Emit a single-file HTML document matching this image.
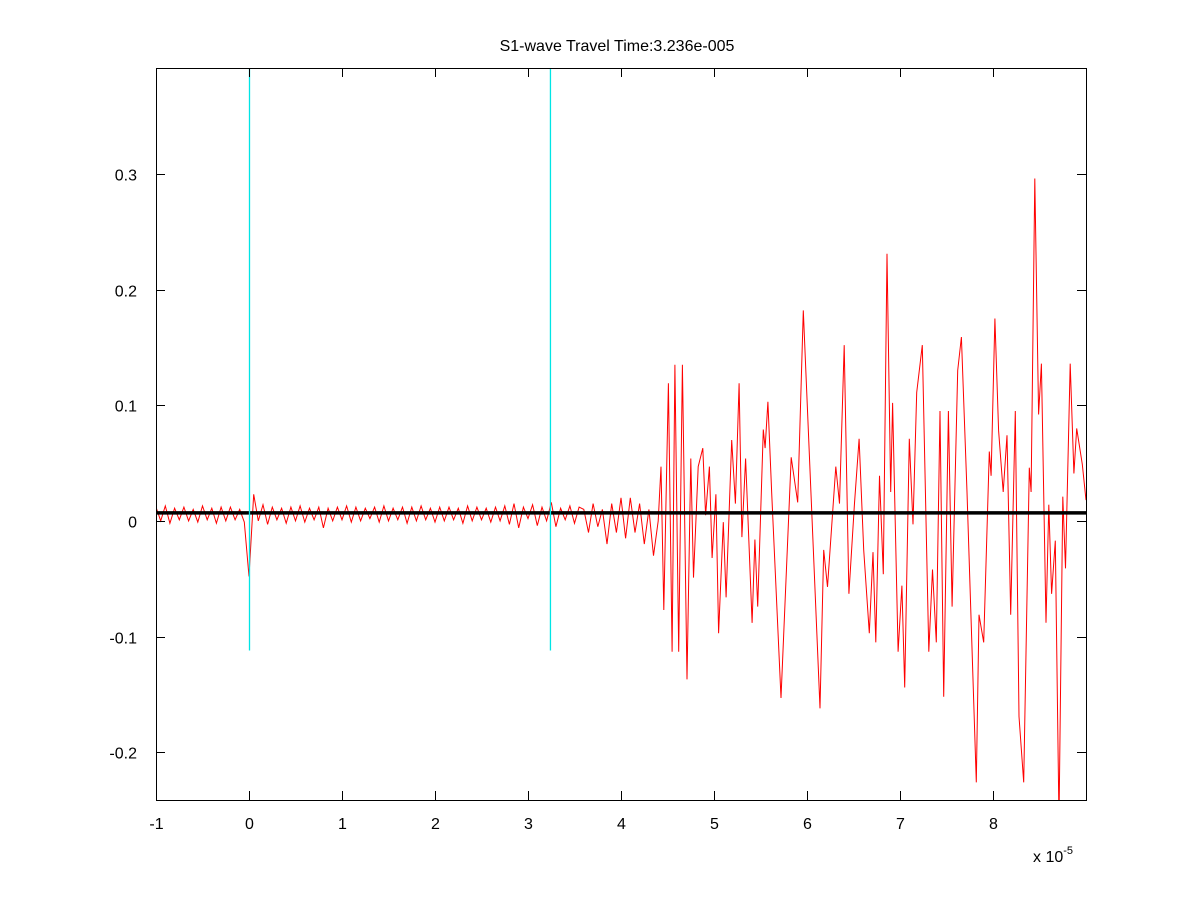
<!DOCTYPE html>
<html><head><meta charset="utf-8"><style>
html,body{margin:0;padding:0;background:#fff;}
svg text{font-family:"Liberation Sans",Arial,sans-serif;}
</style></head><body>
<svg id="chart" width="1200" height="900" xmlns="http://www.w3.org/2000/svg">
<rect x="0" y="0" width="1200" height="900" fill="#fff"/>
<text x="617" y="51" font-size="16" text-anchor="middle">S1-wave Travel Time:3.236e-005</text>
<g id="plot"></g>
<rect x="156.5" y="68.5" width="930" height="732" fill="none" stroke="#000" stroke-width="1"/>
<g id="axes"></g>
<text x="1033" y="862" font-size="16">x 10<tspan dy="-8" font-size="11">-5</tspan></text>
</svg>
<script>
const xTicks=[-1,0,1,2,3,4,5,6,7,8];
const yTicks=[-0.2,-0.1,0,0.1,0.2,0.3];
const yTickLabels=["-0.2","-0.1","0","0.1","0.2","0.3"];
const travelTime=3.236;
const baselineValue=0.007;
const cyanBottom=-0.112;
const noiseStart=-1, noiseStep=0.05;
const noiseVals=[0.012,0,0.013,-0.002,0.011,0.001,0.012,0,0.010,-0.001,0.013,0.001,0.011,-0.002,0.012,0,0.012,0.001,0.010,-0.001,
-0.048,0.023,0,0.014,-0.003,0.012,0.001,0.011,-0.002,0.012,0,0.013,-0.001,0.011,0.001,0.012,-0.006,0.011,0,0.012,
0.001,0.013,-0.001,0.012,0,0.011,0.002,0.012,-0.001,0.013,0,0.011,0.001,0.012,-0.002,0.012,0,0.013,0.001,0.011,
-0.001,0.012,0,0.012,0.001,0.011,-0.002,0.013,0,0.012,0.001,0.011,-0.001,0.012,0,0.013,-0.003,0.015,-0.006,0.012,
0.002,0.014,-0.004,0.012,0,0.016,-0.005,0.011,0.001,0.013,-0.002,0.012];
const sigT=[3.6,3.65,3.7,3.75,3.8,3.85,3.9,3.95,4.0,4.05,4.1,4.15,4.2,4.25,4.3,4.35,4.4,
4.43,4.46,4.51,4.55,4.58,4.62,4.66,4.71,4.75,4.78,4.83,4.88,4.91,4.95,4.98,5.02,5.05,5.10,5.13,5.19,5.23,5.27,5.30,5.34,5.41,5.44,5.47,5.53,5.55,5.58,5.62,5.72,5.83,5.90,5.96,6.14,6.18,6.22,6.31,6.35,
6.40,6.45,6.51,6.56,6.61,6.67,6.71,6.74,6.78,6.82,6.86,6.90,6.92,6.98,7.02,7.05,7.10,7.14,7.18,7.24,7.31,7.35,7.39,7.43,7.47,7.52,7.56,7.62,7.66,7.72,7.82,7.85,7.90,7.96,7.98,8.02,8.06,8.11,8.15,8.19,8.24,8.28,8.33,8.39,8.41,8.45,8.49,8.52,8.57,8.60,8.63,8.67,8.71,8.75,8.78,8.83,8.87,8.90,8.96,9.0];
const sigV=[0.01,-0.01,0.015,-0.005,0.01,-0.02,0.015,-0.01,0.02,-0.015,0.02,-0.01,0.015,-0.02,0.01,-0.03,0.0,
0.047,-0.077,0.119,-0.113,0.135,-0.113,0.135,-0.137,0.054,-0.049,0.047,0.063,0.005,0.047,-0.032,0.023,-0.097,-0.001,-0.066,0.07,0.015,0.119,-0.014,0.054,-0.088,-0.016,-0.074,0.079,0.063,0.103,0.024,-0.153,0.055,0.016,0.182,-0.162,-0.025,-0.057,0.047,0.015,
0.152,-0.063,0.014,0.071,-0.025,-0.097,-0.027,-0.105,0.039,-0.046,0.231,0.025,0.102,-0.113,-0.056,-0.144,0.071,-0.003,0.111,0.152,-0.113,-0.042,-0.105,0.095,-0.152,0.095,-0.074,0.13,0.159,0.025,-0.226,-0.081,-0.105,0.06,0.039,0.175,0.078,0.025,0.074,-0.081,0.095,-0.169,-0.226,0.046,0.025,0.296,0.092,0.136,-0.088,0.014,-0.063,-0.017,-0.26,0.021,-0.041,0.136,0.041,0.08,0.049,0.018];
const X0=156,X1=1086,Y0=68,Y1=800,xmin=-1,xmax=9,ymin=-0.2412,ymax=0.3915;
const sx=v=>X0+(v-xmin)/(xmax-xmin)*(X1-X0);
const sy=v=>Y1-(v-ymin)/(ymax-ymin)*(Y1-Y0);
const NS="http://www.w3.org/2000/svg";
const plot=document.getElementById('plot'), axes=document.getElementById('axes');
function mk(tag,attrs,parent){const e=document.createElementNS(NS,tag);for(const k in attrs)e.setAttribute(k,attrs[k]);parent.appendChild(e);return e;}
// clip
const defs=mk('defs',{},plot);
const cp=mk('clipPath',{id:'clip'},defs);
mk('rect',{x:X0,y:Y0,width:X1-X0,height:Y1-Y0},cp);
const g=mk('g',{'clip-path':'url(#clip)'},plot);
// signal
let pts=[];
noiseVals.forEach((v,i)=>pts.push(sx(noiseStart+i*noiseStep).toFixed(1)+','+sy(v).toFixed(1)));
sigT.forEach((t,i)=>pts.push(sx(t).toFixed(1)+','+sy(sigV[i]).toFixed(1)));
const line=mk('polyline',{points:pts.join(' '),fill:'none',stroke:'#ff0000','stroke-width':1},g);


// baseline
const bl=mk('line',{x1:X0,x2:X1,y1:sy(baselineValue),y2:sy(baselineValue),stroke:'#000','stroke-width':3.5},g);


// cyan markers
[0,travelTime].forEach((t,i)=>{
  const c=mk('line',{x1:sx(t)+0.5,x2:sx(t)+0.5,y1:Y0,y2:sy(cyanBottom),stroke:'#00e5e5','stroke-width':1.3},g);
  
  
});
// ticks
xTicks.forEach(t=>{
  const x=Math.round(sx(t))+0.5;
  mk('line',{x1:x,x2:x,y1:Y1,y2:Y1-9,stroke:'#000'},axes);
  mk('line',{x1:x,x2:x,y1:Y0,y2:Y0+9,stroke:'#000'},axes);
  const tx=mk('text',{x:x,y:Y1+29,'font-size':16,'text-anchor':'middle'},axes);
  tx.textContent=String(t);
  
  
});
yTicks.forEach((t,i)=>{
  const y=Math.round(sy(t))+0.5;
  mk('line',{x1:X0,x2:X0+9,y1:y,y2:y,stroke:'#000'},axes);
  mk('line',{x1:X1,x2:X1-9,y1:y,y2:y,stroke:'#000'},axes);
  const tx=mk('text',{x:X0-19,y:y+6,'font-size':16,'text-anchor':'end'},axes);
  tx.textContent=yTickLabels[i];
  
  
});
</script>
</body></html>
